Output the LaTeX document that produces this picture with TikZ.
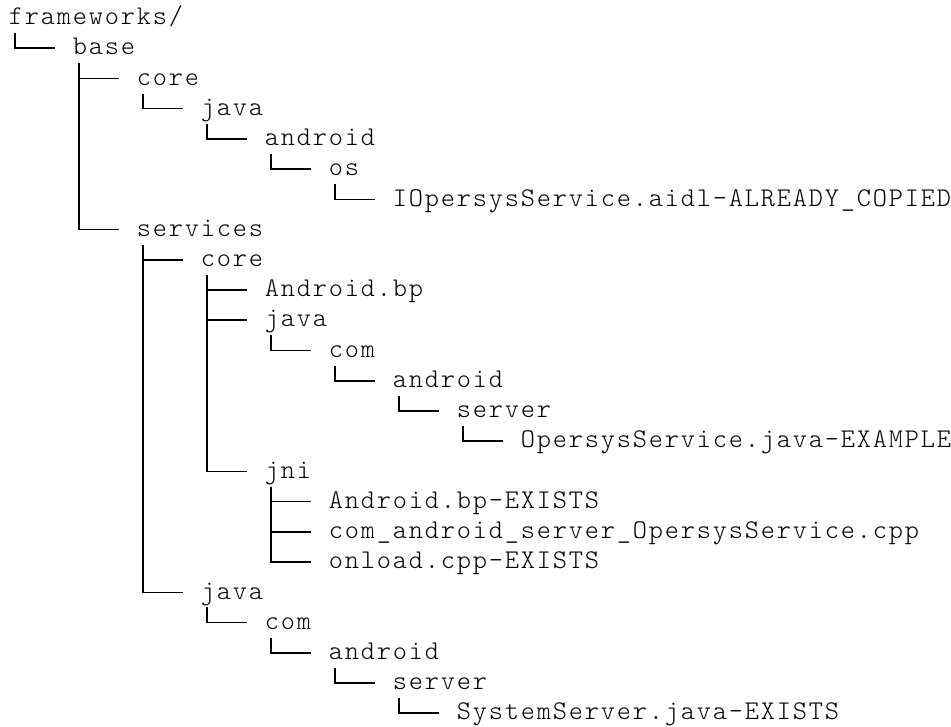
\documentclass[tikz,border=0pt]{standalone}
\usepackage{fontspec}
\newfontfamily\monofont{lmmonolt10-regular.otf}
% put every character in a 16pt wide cell, like a terminal grid
\def\cellify#1{\ifx\relax#1\else\makebox[16pt][c]{#1}\expandafter\cellify\fi}
\begin{document}
\begin{tikzpicture}[x=1pt,y=1pt,
  txt/.style={inner sep=0pt,outer sep=0pt,anchor=base west,font=\monofont\fontsize{27pt}{30pt}\selectfont,text=black},
  tree/.style={line width=1.6pt,black,line cap=butt}]
\fill[white] (0,0) rectangle (951,-727);
\useasboundingbox (0,0) rectangle (951,-727);
% text nodes (x = 8 + 16*col, y = -(24.7 + 30.23*(row-1)))
\node[txt] (n1)  at (8,-24.7)    {\cellify frameworks/\relax};
\node[txt] (n2)  at (72,-54.93)  {\cellify base\relax};
\node[txt] (n3)  at (136,-85.16) {\cellify core\relax};
\node[txt] (n4)  at (200,-115.39) {\cellify java\relax};
\node[txt] (n5)  at (264,-145.62) {\cellify android\relax};
\node[txt] (n6)  at (328,-175.85) {\cellify os\relax};
\node[txt] (n7)  at (392,-206.08) {\cellify IOpersysService.aidl-ALREADY\_COPIED\relax};
\node[txt] (n8)  at (136,-236.31) {\cellify services\relax};
\node[txt] (n9)  at (200,-266.54) {\cellify core\relax};
\node[txt] (n10) at (264,-296.77) {\cellify Android.bp\relax};
\node[txt] (n11) at (264,-327.0)  {\cellify java\relax};
\node[txt] (n12) at (328,-357.23) {\cellify com\relax};
\node[txt] (n13) at (392,-387.46) {\cellify android\relax};
\node[txt] (n14) at (456,-417.69) {\cellify server\relax};
\node[txt] (n15) at (520,-447.92) {\cellify OpersysService.java-EXAMPLE\relax};
\node[txt] (n16) at (264,-478.15) {\cellify jni\relax};
\node[txt] (n17) at (328,-508.38) {\cellify Android.bp-EXISTS\relax};
\node[txt] (n18) at (328,-538.61) {\cellify com\_android\_server\_OpersysService.cpp\relax};
\node[txt] (n19) at (328,-568.84) {\cellify onload.cpp-EXISTS\relax};
\node[txt] (n20) at (200,-599.07) {\cellify java\relax};
\node[txt] (n21) at (264,-629.3)  {\cellify com\relax};
\node[txt] (n22) at (328,-659.53) {\cellify android\relax};
\node[txt] (n23) at (392,-689.76) {\cellify server\relax};
\node[txt] (n24) at (456,-719.99) {\cellify SystemServer.java-EXISTS\relax};
% connectors
\foreach \p/\c in {1/2,2/3,2/8,3/4,4/5,5/6,6/7,8/9,8/20,9/10,9/11,9/16,11/12,12/13,13/14,14/15,16/17,16/18,16/19,20/21,21/22,22/23,23/24}
  \draw[tree] ([xshift=7.2pt,yshift=-8.4pt]n\p.base west) |- ([xshift=-17pt,yshift=6.7pt]n\c.base west);
\end{tikzpicture}
\end{document}
